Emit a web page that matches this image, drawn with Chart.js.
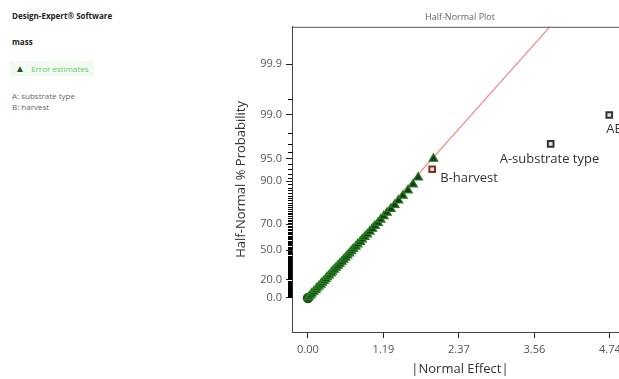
<!DOCTYPE html>
<html>
<head>
<meta charset="utf-8">
<title>Half-Normal Plot</title>
<script src="https://cdn.jsdelivr.net/npm/chart.js@4.4.1/dist/chart.umd.min.js"></script>
<style>
  html, body { margin: 0; padding: 0; width: 619px; height: 379px; overflow: hidden; background: #fff; }
  body { position: relative; font-family: "Open Sans", "Noto Sans", sans-serif; }
  .side { position: absolute; left: 12px; font-size: 8px; white-space: nowrap; line-height: 10px; }
  .bold { font-weight: 700; color: #222; }
  .fac { color: #666; }
  .err { left: 10px; padding: 2px 6px 2px 5px; background: #f1faf1; color: #6cc86c; }
  #plotBox { position: absolute; left: 228px; top: 0; width: 412px; height: 379px; }
</style>
</head>
<body>
<div class="side bold" style="top:11px">Design-Expert® Software</div>
<div class="side bold" style="top:37px">mass</div>
<div class="side err" style="top:61px"><span style="color:#2b4f2b;font-size:10px">▲</span>&nbsp;&nbsp; Error estimates</div>
<div class="side fac" style="top:91px">A: substrate type</div>
<div class="side fac" style="top:102px">B: harvest</div>
<div id="plotBox"><canvas id="halfNormal"></canvas></div>
<script>
// |effect| and half-normal % probability for the error estimates
const errorEffects = [0.01, 0.04, 0.06, 0.09, 0.12, 0.14, 0.17, 0.20, 0.22, 0.25,
                      0.28, 0.30, 0.33, 0.36, 0.38, 0.41, 0.44, 0.47, 0.50, 0.53,
                      0.56, 0.59, 0.62, 0.65, 0.68, 0.71, 0.75, 0.78, 0.82, 0.85,
                      0.89, 0.93, 0.97, 1.01, 1.05, 1.10, 1.14, 1.19, 1.24, 1.30,
                      1.36, 1.42, 1.49, 1.57, 1.65, 1.73, 1.97];
const errorProb = [1, 3, 5, 7, 9, 11, 13, 15, 17, 19,
                   21, 23, 25, 27, 29, 31, 33, 35, 37, 39,
                   41, 43, 45, 47, 49, 51, 53, 55, 57, 59,
                   61, 63, 65, 67, 69, 71, 73, 75, 77, 79,
                   81, 83, 85, 87, 89, 91, 95];

// model terms
const effectNames = ['B-harvest', 'A-substrate type', 'AB'];
const effectValues = [1.95, 3.81, 4.73];
const effectProb = [93, 97, 99];

// reference line through the error estimates
const fitLineX = [0, 3.87];
const fitLineProb = [0, 99.99];

const xTickValues = [0, 1.185, 2.37, 3.555, 4.74];
const xTickLabels = ['0.00', '1.19', '2.37', '3.56', '4.74'];
const yTickProb = [0, 20, 50, 70, 90, 95, 99, 99.9];
const yTickLabels = ['0.0', '20.0', '50.0', '70.0', '90.0', '95.0', '99.0', '99.9'];
const yMinorProb = [1, 2, 3, 4, 5, 6, 7, 8, 9, 10, 11, 12, 13, 14, 15, 16, 17, 18, 19,
                    21, 22, 23, 24, 25, 26, 27, 28, 29, 30, 31, 32, 33, 34, 35, 36, 37, 38, 39, 40,
                    41, 42, 43, 44, 45, 46, 47, 48, 49, 51, 52, 53, 54, 55, 56, 57, 58, 59, 60,
                    61, 62, 63, 64, 65, 66, 67, 68, 69, 71, 72, 73, 74, 75, 76, 77, 78, 79, 80,
                    81, 82, 83, 84, 85, 86, 87, 88, 89, 91, 92, 93, 94, 96, 97, 98, 99.5];

// inverse standard normal CDF (Acklam)
function probit(p) {
  const a = [-3.969683028665376e+01, 2.209460984245205e+02, -2.759285104469687e+02,
             1.383577518672690e+02, -3.066479806614716e+01, 2.506628277459239e+00];
  const b = [-5.447609879822406e+01, 1.615858368580409e+02, -1.556989798598866e+02,
             6.680131188771972e+01, -1.328068155288572e+01];
  const c = [-7.784894002430293e-03, -3.223964580411365e-01, -2.400758277161838e+00,
             -2.549732539343734e+00, 4.374664141464968e+00, 2.938163982698783e+00];
  const d = [7.784695709041462e-03, 3.224671290700398e-01, 2.445134137142996e+00,
             3.754408661907416e+00];
  const pl = 0.02425;
  let q, r;
  if (p < pl) {
    q = Math.sqrt(-2 * Math.log(p));
    return (((((c[0]*q+c[1])*q+c[2])*q+c[3])*q+c[4])*q+c[5]) / ((((d[0]*q+d[1])*q+d[2])*q+d[3])*q+1);
  }
  if (p <= 1 - pl) {
    q = p - 0.5; r = q * q;
    return (((((a[0]*r+a[1])*r+a[2])*r+a[3])*r+a[4])*r+a[5])*q / (((((b[0]*r+b[1])*r+b[2])*r+b[3])*r+b[4])*r+1);
  }
  q = Math.sqrt(-2 * Math.log(1 - p));
  return -(((((c[0]*q+c[1])*q+c[2])*q+c[3])*q+c[4])*q+c[5]) / ((((d[0]*q+d[1])*q+d[2])*q+d[3])*q+1);
}

// half-normal % probability -> quantile used by the y scale
function hnz(pct) {
  return probit(0.5 + pct / 200);
}

const toPoints = (xs, ps) => xs.map((x, i) => ({ x: x, y: hnz(ps[i]) }));

// label placement next to each model term
const labelOffsets = [[8, 9], [-51, 15], [-3, 14]];

const plotExtras = {
  id: 'plotExtras',
  afterDraw(chart) {
    const { ctx, chartArea, scales } = chart;
    const y = scales.y, x = scales.x;
    ctx.save();
    // top frame
    ctx.strokeStyle = '#555';
    ctx.lineWidth = 1;
    ctx.beginPath();
    ctx.moveTo(chartArea.left, chartArea.top + 0.5);
    ctx.lineTo(chartArea.right, chartArea.top + 0.5);
    ctx.stroke();
    // minor probability ticks
    ctx.strokeStyle = '#000';
    ctx.lineWidth = 1;
    ctx.beginPath();
    yMinorProb.forEach(p => {
      const py = Math.round(y.getPixelForValue(hnz(p))) + 0.5;
      ctx.moveTo(chartArea.left - 4, py);
      ctx.lineTo(chartArea.left + 0.5, py);
    });
    ctx.stroke();
    // term labels
    ctx.fillStyle = '#333';
    ctx.font = '13px "Open Sans", sans-serif';
    ctx.textBaseline = 'middle';
    ctx.textAlign = 'left';
    effectNames.forEach((name, i) => {
      const px = x.getPixelForValue(effectValues[i]);
      const py = y.getPixelForValue(hnz(effectProb[i]));
      ctx.fillText(name, px + labelOffsets[i][0], py + labelOffsets[i][1]);
    });
    ctx.restore();
  }
};

new Chart(document.getElementById('halfNormal'), {
  type: 'scatter',
  data: {
    datasets: [
      {
        label: 'fit',
        type: 'line',
        data: toPoints(fitLineX, fitLineProb),
        borderColor: '#f29090',
        borderWidth: 1.3,
        pointRadius: ctx => ctx.dataIndex === 0 ? 4.5 : 0,
        pointBackgroundColor: '#2b3d2b',
        pointBorderColor: '#1e5a1e',
        pointBorderWidth: 1.5,
        fill: false,
        order: 3
      },
      {
        label: 'Error estimates',
        data: toPoints(errorEffects, errorProb),
        pointStyle: 'triangle',
        pointRadius: 5,
        backgroundColor: '#1b361b',
        borderColor: '#23801f',
        borderWidth: 1.2,
        order: 2
      },
      {
        label: 'Terms',
        data: toPoints(effectValues, effectProb),
        pointStyle: 'rect',
        pointRadius: 4,
        backgroundColor: '#eadbd2',
        borderColor: ['#7a3527', '#333', '#333'],
        borderWidth: 2,
        order: 1
      }
    ]
  },
  options: {
    responsive: true,
    maintainAspectRatio: false,
    animation: false,
    layout: { padding: { left: 0, top: 6, right: 12, bottom: 0 } },
    plugins: {
      legend: { display: false },
      tooltip: { enabled: false },
      title: {
        display: true,
        text: 'Half-Normal Plot',
        fullSize: false,
        color: '#666',
        font: { family: '"Open Sans", sans-serif', size: 9, weight: 'normal' },
        padding: { top: 6, bottom: 4 }
      }
    },
    scales: {
      x: {
        type: 'linear',
        min: -0.251,
        max: 5.024,
        afterFit: s => { s.height = 47; },
        afterBuildTicks: s => { s.ticks = xTickValues.map(v => ({ value: v })); },
        grid: { drawOnChartArea: false, tickLength: 6, color: '#222' },
        border: { color: '#444', width: 1 },
        ticks: {
          padding: 5,
          color: '#555',
          maxRotation: 0,
          font: { family: '"Open Sans", sans-serif', size: 11 },
          callback: (v, i) => xTickLabels[i]
        },
        title: {
          display: true,
          text: '|Normal Effect|',
          color: '#333',
          font: { family: '"Open Sans", sans-serif', size: 13 },
          padding: { top: 0, bottom: 2 }
        }
      },
      y: {
        type: 'linear',
        min: -0.479,
        max: 3.817,
        afterFit: s => { s.width = 64; },
        afterBuildTicks: s => { s.ticks = yTickProb.map(p => ({ value: hnz(p) })); },
        grid: { drawOnChartArea: false, tickLength: 6, color: '#222' },
        border: { color: '#444', width: 1 },
        ticks: {
          padding: 4,
          color: '#555',
          font: { family: '"Open Sans", sans-serif', size: 11 },
          callback: (v, i) => yTickLabels[i]
        },
        title: {
          display: true,
          text: 'Half-Normal % Probability',
          color: '#333',
          font: { family: '"Open Sans", sans-serif', size: 13 },
          padding: { top: 5, bottom: 0 }
        }
      }
    }
  },
  plugins: [plotExtras]
});
</script>
</body>
</html>
